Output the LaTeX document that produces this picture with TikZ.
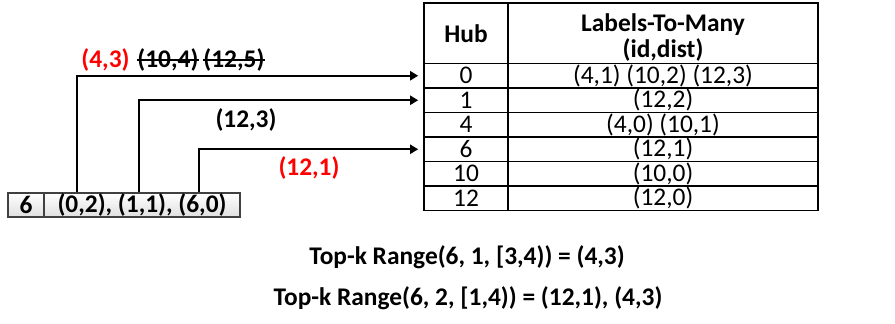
\documentclass[tikz,border=0pt]{standalone}
\usepackage{fontspec}
\setmainfont{Carlito}
\usepackage{xcolor}
\usetikzlibrary{arrows.meta}
\newcommand{\bodysize}{\fontsize{12.7}{13}\selectfont}

\tikzset{
  hubcell/.style={draw, line width=0.8pt, minimum width=42pt, minimum height=12.25pt, inner sep=0pt, font=\bodysize},
  lblcell/.style={draw, line width=0.8pt, minimum width=155pt, minimum height=12.25pt, inner sep=0pt, font=\bodysize},
  entry/.style={draw=black!75, line width=1pt, top color=white, bottom color=gray!25, minimum height=12pt, inner sep=0pt, font=\bodysize\bfseries},
  link/.style={line width=1pt, -{Triangle[length=4pt,width=4.5pt]}, shorten >=2.5pt},
  note/.style={inner sep=0pt, font=\bodysize\bfseries},
  struck/.style={line width=0.8pt}
}

\begin{document}
\begin{tikzpicture}[x=0.5pt, y=-0.5pt]
\useasboundingbox (0,0) rectangle (895,323);

% table header
\node[hubcell, minimum height=30.25pt, font=\bodysize\bfseries] (hubhead) at (466,33.25) {Hub};
\node[lblcell, minimum height=30.25pt, font=\bodysize\bfseries] (lblhead) at (663,33.25) {};
\node[note, align=center] (lbltext) at (663,38) {Labels-To-Many\\(id,dist)};

% table rows
\node[hubcell] (h0) at (466,75.75) {0};
\node[lblcell] (l0) at (663,75.75) {(4,1) (10,2) (12,3)};
\node[hubcell] (h1) at (466,100.25) {1};
\node[lblcell] (l1) at (663,100.25) {(12,2)};
\node[hubcell] (h2) at (466,124.75) {4};
\node[lblcell] (l2) at (663,124.75) {(4,0) (10,1)};
\node[hubcell] (h3) at (466,149.25) {6};
\node[lblcell] (l3) at (663,149.25) {(12,1)};
\node[hubcell] (h4) at (466,173.75) {10};
\node[lblcell] (l4) at (663,173.75) {(10,0)};
\node[hubcell] (h5) at (466,198.25) {12};
\node[lblcell] (l5) at (663,198.25) {(12,0)};

% out-label list of vertex 6
\node[entry, minimum width=18pt] (src) at (26,205) {6};
\node[entry, minimum width=98pt] (lst) at (142,205) {(0,2), (1,1), (6,0)};

% links into hubs
\draw[link] ([xshift=17pt]lst.north west) |- (h0.west);
\draw[link] ([xshift=48pt]lst.north west) |- (h1.west);
\draw[link] ([xshift=78pt]lst.north west) |- (h3.west);

\node[note, anchor=west, text=red] (cand0) at (81,60) {(4,3)};
\node[note, anchor=west] (cand0b) at (137,60) {(10,4)};
\node[note, anchor=west] (cand0c) at (203,60) {(12,5)};
\draw[struck] (cand0b.west) -- (cand0b.east);
\draw[struck] (cand0c.west) -- (cand0c.east);
\node[note] (cand1) at (246,120) {(12,3)};
\node[note, text=red] (cand3) at (309,168) {(12,1)};

% queries
\node[note] (q1) at (467,257) {Top-k Range(6, 1, [3,4)) = (4,3)};
\node[note] (q2) at (468,298) {Top-k Range(6, 2, [1,4)) = (12,1), (4,3)};
\end{tikzpicture}
\end{document}
